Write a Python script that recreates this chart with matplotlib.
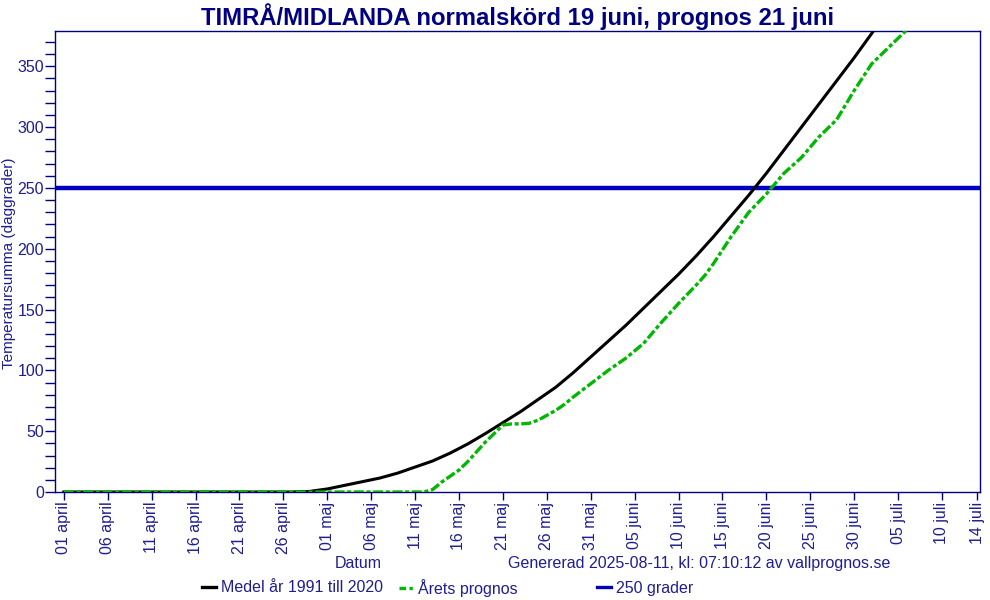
import numpy as np
import matplotlib
matplotlib.use("Agg")
import matplotlib.pyplot as plt
from matplotlib.lines import Line2D
from matplotlib.ticker import MultipleLocator

plt.rcParams['font.family'] = ['Liberation Sans', 'DejaVu Sans']

# days counted from 01 april
medel_day = [0, 26, 28, 30, 32, 34, 36, 38, 40, 42, 44, 46, 48, 50, 52, 54, 56, 58,
             60, 62, 64, 66, 68, 70, 72, 74, 76, 78, 80, 82, 84, 86, 88, 90, 92, 94, 96]
medel_val = [0, 0, 0.5, 2.5, 5.5, 8.5, 11.5, 15.5, 20.5, 25.5, 32, 39.5, 48, 57, 66, 76, 86, 98,
             111, 124, 137, 151, 165, 179, 194, 210, 227, 244, 262, 281, 300, 319, 338, 357, 377, 398, 420]

prognos_day = [0, 41, 42, 43, 44, 45, 46, 47, 48, 49, 50, 51, 52, 53, 54, 55, 56, 57, 58,
               60, 62, 64, 66, 68, 70, 72, 73, 74, 75, 76, 78, 80, 82, 84, 86, 88, 90, 92,
               93, 94, 96, 98, 100]
prognos_val = [0, 0, 2, 8, 13, 18, 25, 33, 41, 48, 55, 56, 56, 56.5, 59, 63, 67, 72, 78,
               89, 100, 110, 122, 139, 155, 170, 178, 188, 199, 210, 230, 245, 262, 275, 292, 306, 330, 352,
               359, 366, 380, 396, 413]

grans = 250

tick_days = [0, 5, 10, 15, 20, 25, 30, 35, 40, 45, 50, 55, 60, 65, 70, 75, 80, 85, 90, 95, 100, 104]
tick_labels = ['01 april', '06 april', '11 april', '16 april', '21 april', '26 april',
               '01 maj', '06 maj', '11 maj', '16 maj', '21 maj', '26 maj', '31 maj',
               '05 juni', '10 juni', '15 juni', '20 juni', '25 juni', '30 juni',
               '05 juli', '10 juli', '14 juli']

navy = '#000080'
txt = '#1e1e90'
green = '#00b800'
fs = 11.5

fig = plt.figure(figsize=(9.9, 6), dpi=100)
ax = fig.add_axes([0.0556, 0.18, 0.934, 0.7683])

ax.axhline(grans, color='#0000c0', lw=3.2, zorder=2)
ax.plot(medel_day, medel_val, color='black', lw=2.2, zorder=3)
ax.plot(prognos_day, prognos_val, color=green, lw=2.4, dashes=(3, 0.8, 1.2, 0.8), zorder=4)

ax.set_xlim(-1, 104.3)
ax.set_ylim(0, 379)
ax.set_xticks(tick_days)
ax.set_xticklabels(tick_labels, rotation=90, fontsize=fs, color=txt)
ax.yaxis.set_major_locator(MultipleLocator(50))
ax.yaxis.set_minor_locator(MultipleLocator(10))
ax.tick_params(axis='y', which='both', length=7, width=1, color=navy, labelsize=fs,
               labelcolor=txt, pad=1)
ax.tick_params(axis='x', length=6, width=1, color=navy, pad=1)
for s in ax.spines.values():
    s.set_color(navy)
    s.set_linewidth(1)

ax.set_ylabel('Temperatursumma (daggrader)', fontsize=11, color=txt)
ax.yaxis.set_label_coords(-0.042, 0.497)
ax.set_title('TIMRÅ/MIDLANDA normalskörd 19 juni, prognos 21 juni', fontsize=17.2,
             fontweight='bold', color=navy, pad=4)

fig.text(0.362, 0.061, 'Datum', fontsize=fs, color=txt, ha='center', va='center')
fig.text(0.513, 0.061, 'Genererad 2025-08-11, kl: 07:10:12 av vallprognos.se', fontsize=fs,
         color=txt, ha='left', va='center')

handles = [Line2D([], [], color='black', lw=2.4),
           Line2D([], [], color=green, lw=2.4, dashes=(2, 1, 1, 1, 1, 1)),
           Line2D([], [], color='#0000c0', lw=2.4)]
names = ['Medel år 1991 till 2020', 'Årets prognos', '250 grader']
for h, n, x0 in zip(handles, names, [0.204, 0.403, 0.603]):
    fig.legend([h], [n], loc='center left', bbox_to_anchor=(x0, 0.02), frameon=False,
               fontsize=fs, labelcolor=txt, handlelength=0.9, handletextpad=0.3,
               borderpad=0, borderaxespad=0)

fig.savefig('out.png', dpi=100)
